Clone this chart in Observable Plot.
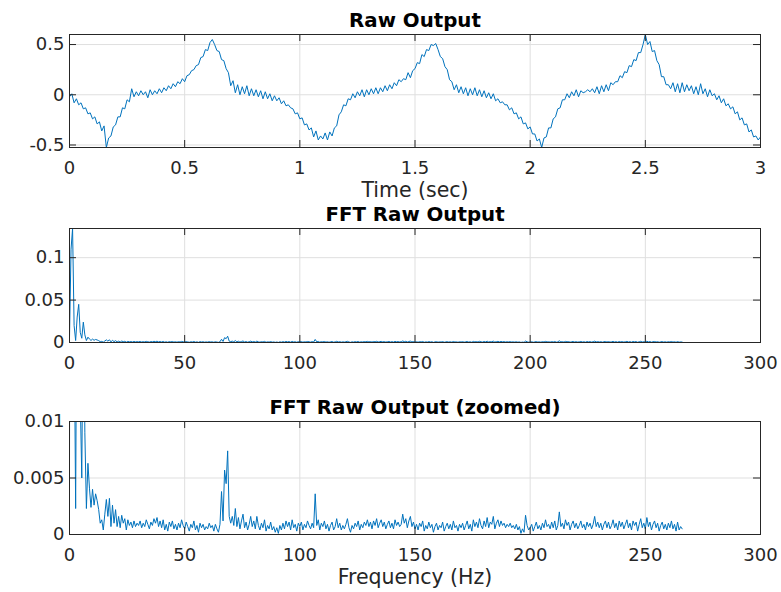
<!DOCTYPE html>
<html>
<head>
<meta charset="utf-8">
<script src="https://cdn.jsdelivr.net/npm/d3@7"></script>
<script src="https://cdn.jsdelivr.net/npm/@observablehq/plot@0.6"></script>
<style>
  html, body { margin: 0; padding: 0; background: #ffffff; }
  #chart { width: 781px; height: 592px; }
  #chart svg { display: block; overflow: visible; }
</style>
</head>
<body>
<div id="chart"></div>
<script>
// ---- Raw output (sampled every 0.01 s from t = 0 to 3 s) ----
const rawStep = 0.01;
const rawOutput = [
  -0.02, 0.01, -0.08, -0.04, -0.10, -0.08, -0.14, -0.13, -0.19, -0.18,
  -0.24, -0.22, -0.29, -0.27, -0.36, -0.31, -0.525, -0.43, -0.41, -0.32,
  -0.30, -0.22, -0.22, -0.13, -0.14, -0.05, -0.07, 0.06, -0.02, 0.03,
  -0.01, 0.04, 0.00, 0.03, -0.03, 0.05, 0.00, 0.04, 0.01, 0.06,
  0.02, 0.07, 0.04, 0.09, 0.06, 0.11, 0.08, 0.13, 0.11, 0.16,
  0.13, 0.19, 0.20, 0.24, 0.25, 0.29, 0.30, 0.37, 0.38, 0.45,
  0.44, 0.52, 0.55, 0.50, 0.44, 0.43, 0.35, 0.34, 0.26, 0.22,
  0.09, 0.14, 0.02, 0.10, 0.00, 0.08, 0.01, 0.09, -0.01, 0.06,
  -0.01, 0.05, -0.02, 0.04, -0.04, 0.03, -0.04, 0.01, -0.06, -0.01,
  -0.06, -0.03, -0.09, -0.06, -0.11, -0.10, -0.13, -0.14, -0.19, -0.18,
  -0.24, -0.23, -0.30, -0.29, -0.35, -0.33, -0.42, -0.36, -0.45, -0.41,
  -0.44, -0.38, -0.45, -0.37, -0.41, -0.33, -0.31, -0.20, -0.17, -0.10,
  -0.11, -0.04, -0.05, 0.01, -0.03, 0.03, -0.01, 0.05, -0.02, 0.05,
  0.00, 0.06, 0.01, 0.07, 0.01, 0.07, 0.03, 0.09, 0.04, 0.10,
  0.06, 0.12, 0.09, 0.15, 0.13, 0.16, 0.15, 0.22, 0.17, 0.24,
  0.26, 0.32, 0.31, 0.40, 0.38, 0.45, 0.44, 0.50, 0.49, 0.51,
  0.45, 0.38, 0.36, 0.28, 0.25, 0.15, 0.13, 0.05, 0.10, 0.02,
  0.08, 0.01, 0.07, -0.01, 0.06, 0.00, 0.07, -0.01, 0.05, -0.02,
  0.04, -0.03, 0.02, -0.04, 0.01, -0.06, -0.04, -0.08, -0.07, -0.10,
  -0.10, -0.15, -0.13, -0.19, -0.18, -0.24, -0.22, -0.29, -0.28, -0.34,
  -0.32, -0.39, -0.39, -0.46, -0.44, -0.525, -0.43, -0.42, -0.33, -0.33,
  -0.24, -0.22, -0.14, -0.13, -0.05, -0.05, 0.01, -0.03, 0.03, -0.01,
  0.05, -0.02, 0.04, 0.02, 0.03, 0.05, 0.03, 0.06, 0.02, 0.08,
  0.01, 0.09, 0.03, 0.10, 0.04, 0.12, 0.10, 0.13, 0.13, 0.19,
  0.17, 0.23, 0.22, 0.29, 0.28, 0.35, 0.34, 0.42, 0.42, 0.50,
  0.60, 0.50, 0.53, 0.43, 0.44, 0.34, 0.30, 0.18, 0.18, 0.10,
  0.10, 0.06, 0.12, 0.03, 0.11, 0.02, 0.12, 0.03, 0.10, 0.04,
  0.09, 0.01, 0.08, 0.00, 0.11, 0.01, 0.06, -0.02, 0.05, -0.01,
  0.01, -0.05, -0.01, -0.08, -0.04, -0.11, -0.09, -0.14, -0.12, -0.19,
  -0.17, -0.25, -0.23, -0.30, -0.29, -0.37, -0.35, -0.42, -0.41, -0.45,
  -0.42
];

// ---- FFT magnitude (bins every 2/3 Hz from 0 Hz) ----
const fftStep = 2 / 3;
const fftMagnitude = [
  0.0054, 0.110, 0.1344, 0.020, 0.0023, 0.030, 0.045, 0.012, 0.005, 0.024, 0.009, 0.0023, 0.0063, 0.0041, 0.0024,
  0.0040, 0.0026, 0.0036, 0.0030, 0.0022, 0.0010, 0.0013, 0.0004, 0.0018, 0.0031, 0.0016, 0.0032, 0.0007, 0.0026, 0.0010,
  0.0022, 0.0007, 0.0016, 0.0006, 0.0017, 0.0010, 0.0014, 0.0004, 0.0013, 0.0008, 0.0011, 0.0006, 0.0012, 0.0007, 0.0010,
  0.0008, 0.0012, 0.0006, 0.0010, 0.0007, 0.0013, 0.0009, 0.0005, 0.0011, 0.0008, 0.0014, 0.0010, 0.0015, 0.0007, 0.0012,
  0.0006, 0.0013, 0.0004, 0.0009, 0.0003, 0.0011, 0.0007, 0.0012, 0.0005, 0.0009, 0.0004, 0.0010, 0.0006, 0.0013, 0.0008,
  0.0005, 0.0011, 0.0007, 0.0003, 0.0009, 0.0006, 0.0012, 0.0004, 0.0008, 0.0002, 0.0010, 0.0006, 0.0009, 0.0004, 0.0007,
  0.0005, 0.0010, 0.0006, 0.0008, 0.0003, 0.0009, 0.0005, 0.0002, 0.0009, 0.0038, 0.0012, 0.0057, 0.0045, 0.0074, 0.0016,
  0.0010, 0.0016, 0.0008, 0.0023, 0.0007, 0.0015, 0.0005, 0.0012, 0.0018, 0.0006, 0.0011, 0.0004, 0.0009, 0.0016, 0.0007,
  0.0012, 0.0005, 0.0016, 0.0008, 0.0004, 0.0010, 0.0006, 0.0013, 0.0003, 0.0008, 0.0005, 0.0011, 0.0004, 0.0007, 0.0002,
  0.0006, 0.0001, 0.0008, 0.0004, 0.0010, 0.0005, 0.0012, 0.0007, 0.0011, 0.0004, 0.0013, 0.0006, 0.0009, 0.0003, 0.0010,
  0.0007, 0.0011, 0.0004, 0.0009, 0.0006, 0.0012, 0.0008, 0.0005, 0.0010, 0.0006, 0.0036, 0.0008, 0.0013, 0.0004, 0.0010,
  0.0007, 0.0012, 0.0005, 0.0009, 0.0003, 0.0008, 0.0011, 0.0004, 0.0007, 0.0014, 0.0006, 0.0010, 0.0004, 0.0008, 0.0005,
  0.0009, 0.0014, 0.0006, 0.0002, 0.0008, 0.0005, 0.0010, 0.0007, 0.0012, 0.0004, 0.0009, 0.0006, 0.0011, 0.0008, 0.0013,
  0.0007, 0.0011, 0.0005, 0.0012, 0.0008, 0.0014, 0.0006, 0.0010, 0.0013, 0.0007, 0.0011, 0.0005, 0.0009, 0.0012, 0.0006,
  0.0010, 0.0005, 0.0013, 0.0008, 0.0011, 0.0007, 0.0009, 0.0018, 0.0010, 0.0014, 0.0006, 0.0012, 0.0016, 0.0007, 0.0011,
  0.0005, 0.0009, 0.0004, 0.0010, 0.0007, 0.0012, 0.0003, 0.0008, 0.0005, 0.0011, 0.0006, 0.0009, 0.0002, 0.0007, 0.0010,
  0.0004, 0.0008, 0.0006, 0.0011, 0.0003, 0.0007, 0.0010, 0.0005, 0.0009, 0.0004, 0.0012, 0.0006, 0.0008, 0.0003, 0.0009,
  0.0006, 0.0010, 0.0004, 0.0008, 0.0012, 0.0005, 0.0009, 0.0003, 0.0013, 0.0007, 0.0011, 0.0006, 0.0014, 0.0008, 0.0005,
  0.0012, 0.0007, 0.0015, 0.0006, 0.0011, 0.0009, 0.0016, 0.0005, 0.0010, 0.0013, 0.0007, 0.0012, 0.0008, 0.0010, 0.0006,
  0.0009, 0.0007, 0.0010, 0.0006, 0.0008, 0.0005, 0.0009, 0.0004, 0.0007, 0.0001, 0.0005, 0.0002, 0.0017, 0.0008, 0.0004,
  0.0006, 0.0009, 0.0003, 0.0007, 0.0011, 0.0005, 0.0008, 0.0004, 0.0010, 0.0006, 0.0013, 0.0007, 0.0009, 0.0005, 0.0011,
  0.0006, 0.0012, 0.0004, 0.0008, 0.0020, 0.0007, 0.0010, 0.0005, 0.0013, 0.0008, 0.0011, 0.0004, 0.0009, 0.0012, 0.0006,
  0.0010, 0.0005, 0.0008, 0.0012, 0.0006, 0.0009, 0.0004, 0.0011, 0.0007, 0.0010, 0.0005, 0.0009, 0.0016, 0.0007, 0.0011,
  0.0006, 0.0010, 0.0004, 0.0009, 0.0012, 0.0006, 0.0011, 0.0005, 0.0008, 0.0013, 0.0006, 0.0010, 0.0004, 0.0012, 0.0007,
  0.0011, 0.0005, 0.0009, 0.0013, 0.0006, 0.0010, 0.0004, 0.0012, 0.0008, 0.0011, 0.0003, 0.0009, 0.0014, 0.0006, 0.0010,
  0.0005, 0.0015, 0.0007, 0.0011, 0.0004, 0.0009, 0.0012, 0.0006, 0.0010, 0.0003, 0.0008, 0.0011, 0.0005, 0.0009, 0.0004,
  0.0010, 0.0006, 0.0012, 0.0005, 0.0009, 0.0003, 0.0011, 0.0004, 0.0007, 0.0005
];

// ---- Axes, ticks, texts ----
const timeTicks = [0, 0.5, 1, 1.5, 2, 2.5, 3];
const rawTicks = [-0.5, 0, 0.5];
const freqTicks = [0, 50, 100, 150, 200, 250, 300];
const fftTicks = [0, 0.05, 0.1];
const zoomTicks = [0, 0.005, 0.01];
const panelTitles = ["Raw Output", "FFT Raw Output", "FFT Raw Output (zoomed)"];
const timeLabel = "Time (sec)";
const freqLabel = "Frequency (Hz)";

const rawData = rawOutput.map((v, i) => ({x: i * rawStep, y: v}));
const fftData = fftMagnitude.map((v, i) => ({x: i * fftStep, y: v}));

const W = 781, ML = 69, MR = 21;
const INK = "#262626", GRID = "#dfdfdf", BLUE = "#0072BD";
const TICK = 7;

function panel({data, xDomain, yDomain, xTicks, yTicks, height, marginTop, marginBottom, title, xLabel}) {
  const fw = W - ML - MR;
  const fh = height - marginTop - marginBottom;
  const fmt = d => String(d);
  const marks = [
    Plot.gridX(xTicks, {stroke: GRID, strokeOpacity: 1}),
    Plot.gridY(yTicks, {stroke: GRID, strokeOpacity: 1}),
    Plot.line(data, {x: "x", y: "y", stroke: BLUE, strokeWidth: 1, clip: true}),
    Plot.tickX(xTicks, {x: d => d, stroke: INK, insetTop: fh - TICK}),
    Plot.tickX(xTicks, {x: d => d, stroke: INK, insetBottom: fh - TICK}),
    Plot.tickY(yTicks, {y: d => d, stroke: INK, insetRight: fw - TICK}),
    Plot.tickY(yTicks, {y: d => d, stroke: INK, insetLeft: fw - TICK}),
    Plot.frame({stroke: INK, strokeWidth: 1}),
    Plot.axisX(xTicks, {tickSize: 0, tickPadding: 13.5, tickFormat: fmt, label: null, fill: INK}),
    Plot.axisY(yTicks, {tickSize: 0, tickPadding: 5, tickFormat: fmt, label: null, fill: INK}),
    Plot.text([title], {frameAnchor: "top", dy: -14, lineAnchor: "middle", fontWeight: "bold", fontSize: 19.8, fill: "#000000"})
  ];
  if (xLabel) {
    marks.push(Plot.text([xLabel], {frameAnchor: "bottom", dy: 43, lineAnchor: "middle", fontSize: 20.5, fill: INK}));
  }
  return Plot.plot({
    width: W,
    height,
    marginLeft: ML,
    marginRight: MR,
    marginTop,
    marginBottom,
    x: {domain: xDomain, axis: null},
    y: {domain: yDomain, axis: null},
    style: {fontFamily: "DejaVu Sans", fontSize: "18px", color: INK, background: "transparent", overflow: "visible"},
    marks
  });
}

const chart = document.getElementById("chart");
chart.appendChild(panel({
  data: rawData, xDomain: [0, 3], yDomain: [-0.525, 0.6],
  xTicks: timeTicks, yTicks: rawTicks,
  height: 205, marginTop: 34, marginBottom: 58,
  title: panelTitles[0], xLabel: timeLabel
}));
chart.appendChild(panel({
  data: fftData, xDomain: [0, 300], yDomain: [0, 0.1344],
  xTicks: freqTicks, yTicks: fftTicks,
  height: 189, marginTop: 23, marginBottom: 52,
  title: panelTitles[1], xLabel: null
}));
chart.appendChild(panel({
  data: fftData, xDomain: [0, 300], yDomain: [0, 0.01],
  xTicks: freqTicks, yTicks: zoomTicks,
  height: 198, marginTop: 27, marginBottom: 58,
  title: panelTitles[2], xLabel: freqLabel
}));
</script>
</body>
</html>
